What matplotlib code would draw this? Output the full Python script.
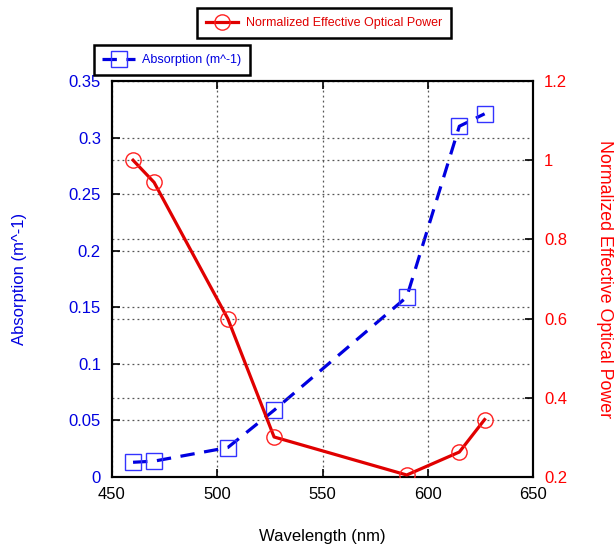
import matplotlib.pyplot as plt
import numpy as np

plt.rcParams['font.family'] = ['Liberation Sans', 'DejaVu Sans']

# wavelength points (nm)
wavelength = [460, 470, 505, 527, 590, 615, 627]
# absorption coefficient (m^-1)
absorption = [0.013, 0.014, 0.026, 0.059, 0.159, 0.310, 0.321]
# normalized effective optical power
opt_power = [1.0, 0.944, 0.600, 0.301, 0.205, 0.263, 0.345]

blue = '#0000e0'
red = '#e00000'

fig = plt.figure(figsize=(6.16, 5.48), dpi=100)
ax = fig.add_axes([0.1818, 0.1296, 0.6835, 0.7226])
ax2 = ax.twinx()

l1, = ax.plot(wavelength, absorption, '--', color=blue, lw=2.3, dashes=(4.5, 3),
              marker='s', ms=11, mfc='none', mec='#3333ff', mew=1.0, zorder=3)
l2, = ax2.plot(wavelength, opt_power, '-', color=red, lw=2.3,
               marker='o', ms=11, mfc='none', mec='#ff2020', mew=1.0, zorder=3)

ax.set_xlim(450, 650)
ax.set_ylim(0, 0.35)
ax2.set_ylim(0.2, 1.2)
ax.set_xticks(np.arange(450, 651, 50))
ax.set_yticks(np.arange(0, 0.351, 0.05))
ax.set_yticklabels(['0', '0.05', '0.1', '0.15', '0.2', '0.25', '0.3', '0.35'])
ax2.set_yticks(np.arange(0.2, 1.21, 0.2))
ax2.set_yticklabels(['0.2', '0.4', '0.6', '0.8', '1', '1.2'])

grid_kw = dict(color='#555555', linestyle=(0, (1.5, 2.5)), linewidth=0.9)
ax.grid(True, **grid_kw)
ax2.yaxis.grid(True, **grid_kw)
ax2.set_zorder(ax.get_zorder() + 1)
ax2.patch.set_visible(False)

ax.tick_params(axis='x', direction='in', top=True, labelsize=12, length=6, width=1.2, pad=7)
ax.tick_params(axis='y', direction='in', labelsize=12, length=6, width=1.2,
               labelcolor=blue, pad=8)
ax2.tick_params(axis='y', direction='in', labelsize=12, length=6, width=1.2,
                labelcolor='#ff0000', pad=8)
for a in (ax, ax2):
    for s in a.spines.values():
        s.set_linewidth(1.5)

ax.set_xlabel('Wavelength (nm)', fontsize=12, labelpad=20)
ax.set_ylabel('Absorption (m^-1)', fontsize=12, color=blue, labelpad=30)
ax2.set_ylabel('Normalized Effective Optical Power', fontsize=12.8, color='#ff0000',
               rotation=270, labelpad=33)

leg_kw = dict(loc='center', fontsize=9, fancybox=False, framealpha=1,
              edgecolor='black', handlelength=2.6, numpoints=1, borderpad=0.7,
              handletextpad=0.6)
lg2 = fig.legend([l2], ['Normalized Effective Optical Power'],
                 bbox_to_anchor=(0.526, 0.958), labelcolor=red, **leg_kw)
lg1 = fig.legend([l1], ['Absorption (m^-1)'],
                 bbox_to_anchor=(0.279, 0.8905), labelcolor=blue, **leg_kw)
for lg in (lg1, lg2):
    lg.get_frame().set_linewidth(1.8)

fig.savefig('out.png', dpi=100)
